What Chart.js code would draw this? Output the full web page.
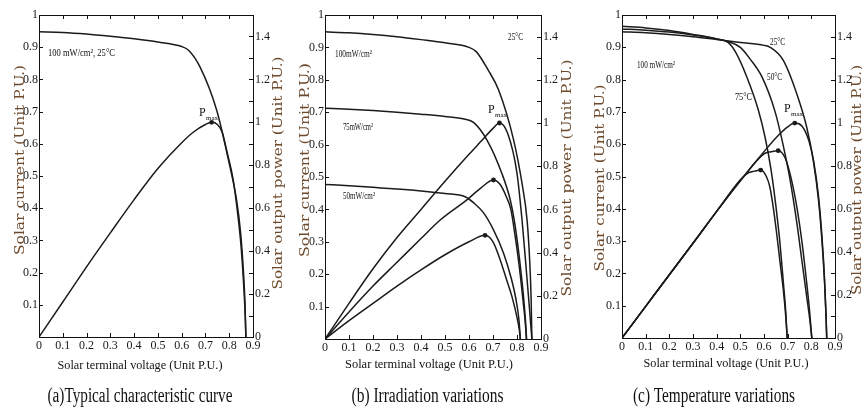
<!DOCTYPE html>
<html>
<head>
<meta charset="utf-8">
<script src="https://cdn.jsdelivr.net/npm/chart.js@4.4.0/dist/chart.umd.min.js"></script>
<style>
html, body { margin: 0; padding: 0; background: #fff; }
#wrap { position: relative; width: 862px; height: 410px; overflow: hidden; }
canvas { position: absolute; top: 0; }
</style>
</head>
<body>
<div id="wrap">
  <canvas id="chartA" width="290" height="410" style="left:0px"></canvas>
  <canvas id="chartB" width="287" height="410" style="left:290px"></canvas>
  <canvas id="chartC" width="285" height="410" style="left:577px"></canvas>
</div>
<script>
// tick values
const X_TICKS = [0, 0.1, 0.2, 0.3, 0.4, 0.5, 0.6, 0.7, 0.8, 0.9];
const I_TICKS = [0, 0.1, 0.2, 0.3, 0.4, 0.5, 0.6, 0.7, 0.8, 0.9, 1];
const P_TICKS = [0, 0.1, 0.2, 0.3, 0.4, 0.5, 0.6, 0.7, 0.8, 0.9, 1, 1.1, 1.2, 1.3, 1.4, 1.5];
const P_LABELS = [0, 0.2, 0.4, 0.6, 0.8, 1, 1.2, 1.4];

// (a) typical curve, [voltage, value]
const A_IV = [[0,0.948],[0.1,0.946],[0.2,0.941],[0.3,0.934],[0.4,0.926],[0.5,0.916],[0.6,0.902],[0.63,0.89],[0.677,0.839],[0.747,0.705],[0.803,0.529],[0.831,0.425],[0.848,0.323],[0.86,0.2],[0.866,0.11],[0.87,0]];
const A_PV = [[0,0],[0.1,0.163],[0.2,0.327],[0.3,0.485],[0.4,0.64],[0.5,0.785],[0.6,0.905],[0.65,0.955],[0.7,0.99],[0.726,1.0],[0.75,0.99],[0.77,0.955],[0.789,0.87],[0.817,0.73],[0.835,0.58],[0.85,0.42],[0.862,0.22],[0.868,0.08],[0.87,0]];

// (b) irradiation
const B_IV100 = [[0,0.948],[0.1,0.945],[0.2,0.94],[0.3,0.933],[0.4,0.924],[0.5,0.914],[0.6,0.9],[0.63,0.887],[0.68,0.83],[0.723,0.769],[0.786,0.614],[0.821,0.48],[0.842,0.367],[0.853,0.24],[0.859,0.12],[0.862,0]];
const B_PV100 = [[0,0],[0.1,0.165],[0.2,0.325],[0.3,0.47],[0.4,0.6],[0.5,0.73],[0.6,0.855],[0.65,0.915],[0.7,0.975],[0.727,1.0],[0.761,0.952],[0.8,0.767],[0.821,0.551],[0.838,0.33],[0.852,0.14],[0.862,0]];
const B_IV75 = [[0,0.712],[0.1,0.709],[0.2,0.705],[0.3,0.7],[0.4,0.694],[0.5,0.687],[0.58,0.679],[0.62,0.668],[0.675,0.614],[0.737,0.511],[0.772,0.429],[0.79,0.36],[0.81,0.25],[0.826,0.14],[0.835,0.06],[0.84,0]];
const B_PV75 = [[0,0],[0.1,0.125],[0.2,0.245],[0.3,0.355],[0.4,0.465],[0.48,0.551],[0.591,0.644],[0.65,0.7],[0.702,0.736],[0.73,0.715],[0.755,0.66],[0.775,0.597],[0.793,0.47],[0.81,0.33],[0.825,0.18],[0.835,0.07],[0.839,0]];
const B_IV50 = [[0,0.477],[0.1,0.473],[0.2,0.468],[0.3,0.463],[0.4,0.457],[0.5,0.449],[0.584,0.439],[0.62,0.42],[0.66,0.39],[0.7,0.34],[0.744,0.265],[0.775,0.19],[0.795,0.125],[0.808,0.06],[0.814,0]];
const B_PV50 = [[0,0],[0.1,0.085],[0.2,0.165],[0.3,0.245],[0.4,0.32],[0.5,0.39],[0.6,0.45],[0.667,0.48],[0.7,0.45],[0.73,0.366],[0.755,0.28],[0.779,0.196],[0.8,0.1],[0.81,0.04],[0.814,0]];

// (c) temperature
const C_IV25 = [[0,0.948],[0.1,0.945],[0.2,0.94],[0.3,0.933],[0.4,0.924],[0.5,0.915],[0.6,0.906],[0.626,0.9],[0.681,0.86],[0.738,0.757],[0.78,0.654],[0.808,0.551],[0.83,0.43],[0.845,0.3],[0.856,0.17],[0.862,0.07],[0.865,0]];
const C_PV25 = [[0,0],[0.1,0.147],[0.2,0.294],[0.3,0.44],[0.4,0.588],[0.5,0.73],[0.6,0.865],[0.66,0.94],[0.7,0.98],[0.73,0.998],[0.76,0.985],[0.79,0.915],[0.81,0.82],[0.83,0.66],[0.845,0.47],[0.856,0.27],[0.862,0.11],[0.865,0]];
const C_IV50 = [[0,0.957],[0.1,0.953],[0.2,0.947],[0.3,0.938],[0.4,0.926],[0.45,0.917],[0.5,0.9],[0.54,0.865],[0.591,0.809],[0.647,0.7],[0.68,0.6],[0.71,0.49],[0.738,0.36],[0.76,0.24],[0.78,0.13],[0.793,0.06],[0.802,0]];
const C_PV50 = [[0,0],[0.1,0.147],[0.2,0.294],[0.3,0.44],[0.4,0.588],[0.5,0.73],[0.6,0.855],[0.63,0.865],[0.66,0.87],[0.69,0.835],[0.715,0.74],[0.74,0.6],[0.76,0.45],[0.78,0.26],[0.793,0.12],[0.802,0]];
const C_IV75 = [[0,0.965],[0.1,0.96],[0.2,0.952],[0.3,0.94],[0.4,0.926],[0.448,0.915],[0.48,0.885],[0.527,0.809],[0.576,0.706],[0.605,0.62],[0.63,0.52],[0.65,0.41],[0.668,0.29],[0.682,0.17],[0.692,0.08],[0.698,0]];
const C_PV75 = [[0,0],[0.1,0.147],[0.2,0.294],[0.3,0.44],[0.4,0.588],[0.5,0.735],[0.53,0.765],[0.56,0.775],[0.586,0.78],[0.61,0.75],[0.625,0.7],[0.64,0.6],[0.653,0.49],[0.668,0.35],[0.682,0.22],[0.692,0.1],[0.698,0]];

const LINE = '#1b1b1b';
const BROWN = '#6e4a2c';
const SERIF = '"Liberation Serif", "Times New Roman", serif';
const WIDE_SERIF = '"DejaVu Serif", serif';

function near(list, v) {
    return list.some(t => Math.abs(t - v) < 1e-6);
}

function fmt(v) {
    return String(Math.round(v * 10) / 10);
}

function series(arr, axis, withPeak) {
    const pts = arr.map(([x, y]) => ({ x: x, y: y }));
    let peak = -1;
    if (withPeak) {
        peak = 0;
        pts.forEach((p, i) => { if (p.y > pts[peak].y) peak = i; });
    }
    return {
        data: pts,
        yAxisID: axis,
        borderColor: LINE,
        borderWidth: 1.5,
        cubicInterpolationMode: 'monotone',
        pointRadius: ctx => ctx.dataIndex === peak ? 2.4 : 0,
        pointBackgroundColor: LINE,
        pointBorderWidth: 0
    };
}

function drawText(ctx, t, offset) {
    ctx.save();
    ctx.font = t.font;
    ctx.fillStyle = t.color || '#111';
    ctx.textBaseline = 'middle';
    ctx.textAlign = t.align || 'center';
    const w = ctx.measureText(t.text).width;
    const sx = t.width ? t.width / w : 1;
    ctx.translate(t.x - offset, t.y);
    if (t.rotate) ctx.rotate(-Math.PI / 2);
    ctx.scale(sx, 1);
    ctx.fillText(t.text, 0, 0);
    ctx.restore();
}

const framePlugin = {
    id: 'frame',
    afterDraw(chart) {
        const ctx = chart.ctx;
        const a = chart.chartArea;
        const o = chart.options.plugins.frame;
        ctx.save();
        ctx.strokeStyle = '#111';
        ctx.lineWidth = 1;
        ctx.strokeRect(Math.round(a.left) + 0.5, Math.round(a.top) + 0.5,
            Math.round(a.right - a.left), Math.round(a.bottom - a.top));
        ctx.beginPath();
        const tl = 4;
        chart.scales.x.ticks.forEach(t => {
            const px = Math.round(chart.scales.x.getPixelForValue(t.value)) + 0.5;
            ctx.moveTo(px, a.bottom); ctx.lineTo(px, a.bottom - tl);
            ctx.moveTo(px, a.top); ctx.lineTo(px, a.top + tl);
        });
        chart.scales.y.ticks.forEach(t => {
            const py = Math.round(chart.scales.y.getPixelForValue(t.value)) + 0.5;
            ctx.moveTo(a.left, py); ctx.lineTo(a.left + tl, py);
        });
        chart.scales.y1.ticks.forEach(t => {
            const py = Math.round(chart.scales.y1.getPixelForValue(t.value)) + 0.5;
            ctx.moveTo(a.right, py); ctx.lineTo(a.right - tl, py);
        });
        ctx.stroke();
        ctx.restore();
        (o.texts || []).forEach(t => drawText(ctx, t, o.offset));
    }
};

function fixBox(size, horizontal) {
    return s => {
        if (horizontal) s.height = size; else s.width = size;
        s.paddingTop = 0; s.paddingBottom = 0; s.paddingLeft = 0; s.paddingRight = 0;
    };
}

function makeChart(id, p) {
    const tickFont = { family: SERIF, size: 12 };
    const grid = { display: false, drawTicks: false, tickLength: 0 };
    return new Chart(document.getElementById(id), {
        type: 'line',
        data: { datasets: p.datasets },
        plugins: [framePlugin],
        options: {
            responsive: false,
            animation: false,
            layout: { padding: { top: 15, left: 0, right: 0, bottom: 0 } },
            plugins: {
                legend: { display: false },
                tooltip: { enabled: false },
                frame: { offset: p.offset, texts: p.texts }
            },
            scales: {
                x: {
                    type: 'linear', min: 0, max: 0.9,
                    grid: grid, border: { display: false },
                    afterBuildTicks: s => { s.ticks = X_TICKS.map(v => ({ value: v })); },
                    afterFit: fixBox(p.bottom, true),
                    ticks: { autoSkip: false, maxRotation: 0, padding: 2, color: '#1a1a1a', font: tickFont, callback: v => fmt(v) }
                },
                y: {
                    position: 'left', min: 0, max: 1,
                    grid: grid, border: { display: false },
                    afterBuildTicks: s => { s.ticks = I_TICKS.map(v => ({ value: v })); },
                    afterFit: fixBox(p.left, false),
                    ticks: { autoSkip: false, padding: 1, color: '#1a1a1a', font: tickFont, callback: v => v === 0 ? '' : fmt(v) }
                },
                y1: {
                    position: 'right', min: 0, max: 1.5,
                    grid: grid, border: { display: false },
                    afterBuildTicks: s => { s.ticks = P_TICKS.map(v => ({ value: v })); },
                    afterFit: fixBox(p.right, false),
                    ticks: { autoSkip: false, padding: 2, color: '#1a1a1a', font: tickFont, callback: v => near(P_LABELS, v) ? fmt(v) : '' }
                }
            }
        }
    });
}

function axisTexts(l, r, b, c) {
    return [
        { text: 'Solar current (Unit P.U.)', x: l[0], y: l[1], width: l[2], rotate: true, font: '13.5px ' + WIDE_SERIF, color: BROWN },
        { text: 'Solar output power (Unit P.U.)', x: r[0], y: r[1], width: r[2], rotate: true, font: '13.5px ' + WIDE_SERIF, color: BROWN },
        { text: 'Solar terminal voltage (Unit P.U.)', x: b[0], y: b[1], width: b[2], font: '13.5px ' + SERIF },
        { text: c[0], x: c[1], y: c[2], width: c[3], font: '20px ' + SERIF }
    ];
}

function pmax(x, y) {
    return [
        { text: 'P', x: x, y: y, align: 'left', font: '12px ' + SERIF },
        { text: 'max', x: x + 7, y: y + 5, align: 'left', font: '7px ' + SERIF }
    ];
}

function note(text, x, y, w) {
    return { text: text, x: x, y: y, width: w, align: 'left', font: '10px ' + SERIF };
}

makeChart('chartA', {
    offset: 0, left: 39, right: 37, bottom: 73,
    datasets: [series(A_IV, 'y', false), series(A_PV, 'y1', true)],
    texts: axisTexts([20, 160, 190], [278, 173, 233], [140, 365, 165], ['(a)Typical characteristic curve', 140, 397, 185])
        .concat([note('100 mW/cm², 25°C', 48, 53, 67)])
        .concat(pmax(199, 113))
});

makeChart('chartB', {
    offset: 290, left: 35, right: 36, bottom: 71,
    datasets: [
        series(B_IV100, 'y', false), series(B_PV100, 'y1', true),
        series(B_IV75, 'y', false), series(B_PV75, 'y1', true),
        series(B_IV50, 'y', false), series(B_PV50, 'y1', true)
    ],
    texts: axisTexts([305, 160, 194], [567, 178, 237], [429, 364, 168], ['(b) Irradiation variations', 427.5, 397, 152])
        .concat([
            note('100mW/cm²', 335, 54, 37),
            note('75mW/cm²', 343, 127, 30),
            note('50mW/cm²', 343, 196, 32),
            note('25°C', 508, 37, 15)
        ])
        .concat(pmax(488, 110))
});

makeChart('chartC', {
    offset: 577, left: 45, right: 27, bottom: 72,
    datasets: [
        series(C_IV25, 'y', false), series(C_PV25, 'y1', true),
        series(C_IV50, 'y', false), series(C_PV50, 'y1', true),
        series(C_IV75, 'y', false), series(C_PV75, 'y1', true)
    ],
    texts: axisTexts([600, 178, 187], [857, 180, 230], [726, 363, 165], ['(c) Temperature variations', 714, 397, 162])
        .concat([
            note('100 mW/cm²', 637, 65, 38),
            note('25°C', 770, 42, 15),
            note('50°C', 767, 77, 15),
            note('75°C', 735, 97, 17)
        ])
        .concat(pmax(784, 109))
});
</script>
</body>
</html>
